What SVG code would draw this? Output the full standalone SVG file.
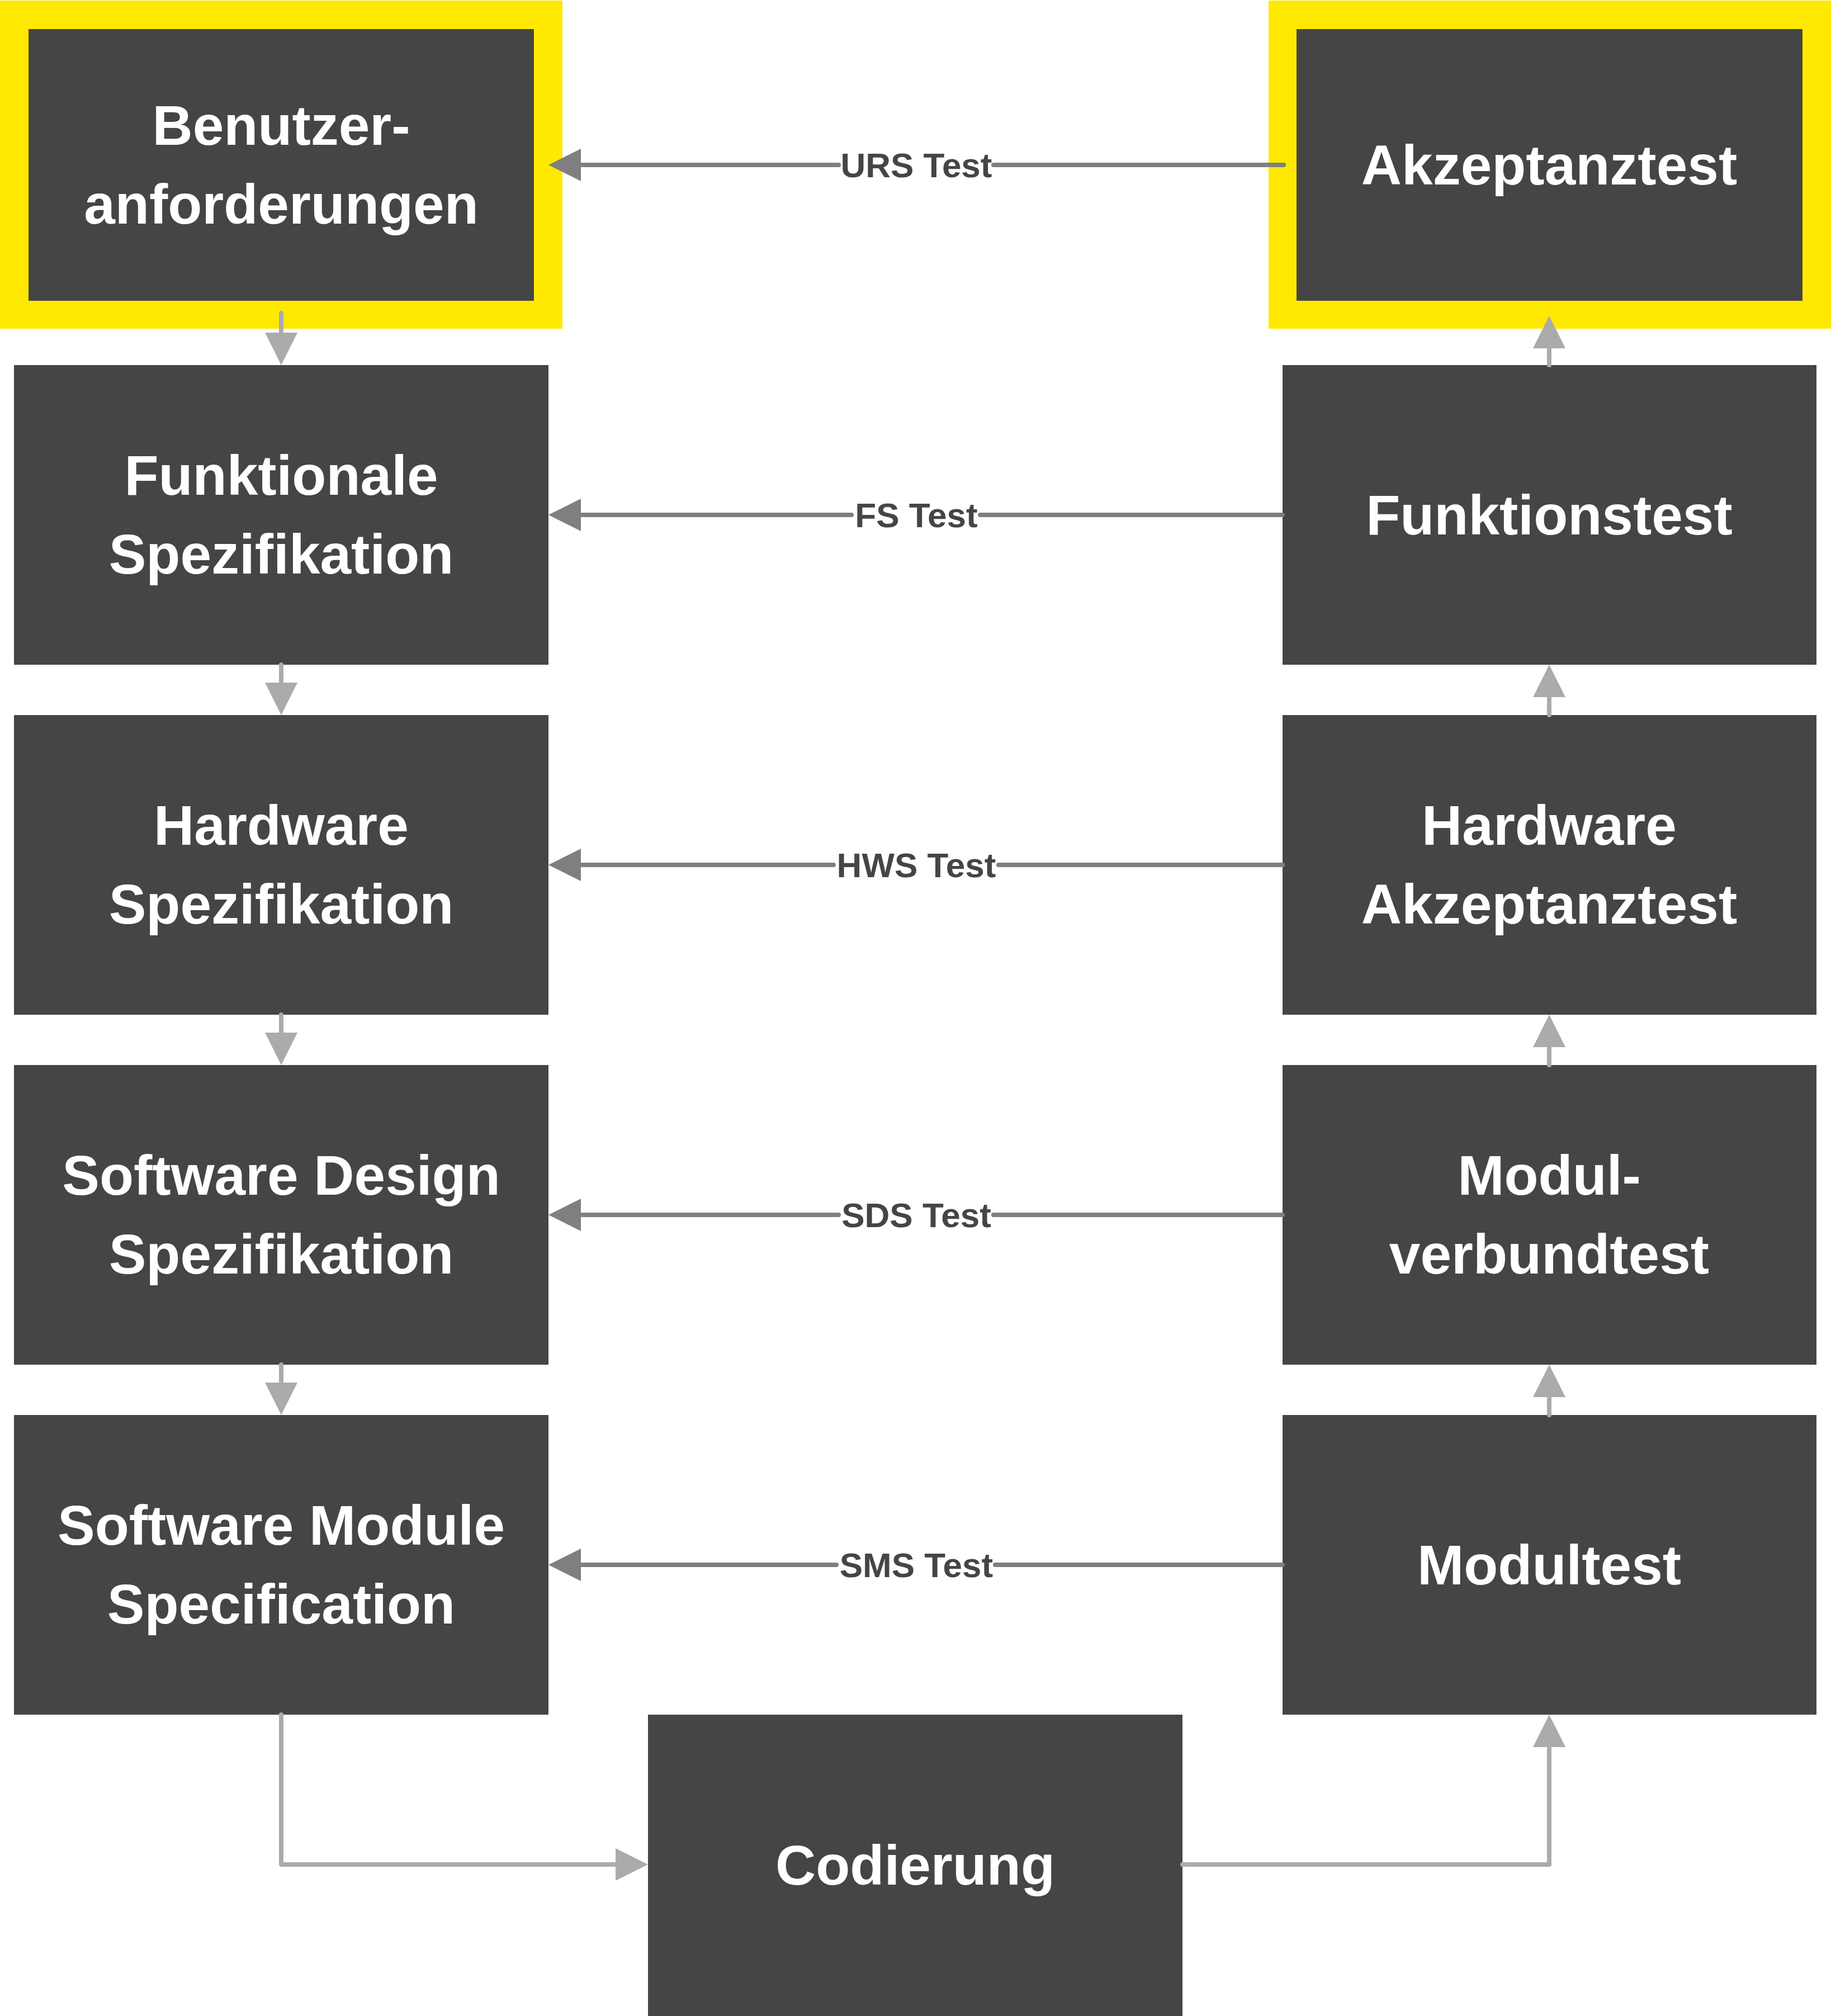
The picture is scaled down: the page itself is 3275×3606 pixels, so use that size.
<svg xmlns="http://www.w3.org/2000/svg" width="3275" height="3606" viewBox="0 0 3275 3606">
<style>
.box{fill:#454545}
.hl{fill:#ffe900}
.t{font-family:"Liberation Sans",Arial,sans-serif;font-weight:bold;font-size:100px;fill:#ffffff;text-anchor:middle}
.lbl{font-family:"Liberation Sans",Arial,sans-serif;font-weight:bold;font-size:62px;fill:#454545;text-anchor:middle}
.v{stroke:#ababab;stroke-width:8;fill:none;stroke-linecap:round;stroke-linejoin:round}
.h{stroke:#7f7f7f;stroke-width:8;fill:none;stroke-linecap:round}
</style>
<defs>
<marker id="al" markerUnits="userSpaceOnUse" markerWidth="60" markerHeight="60" refX="8" refY="29" orient="auto" overflow="visible">
<path d="M0,0 L58,29 L0,58 Z" fill="#ababab"/>
</marker>
<marker id="ad" markerUnits="userSpaceOnUse" markerWidth="60" markerHeight="60" refX="8" refY="29" orient="auto" overflow="visible">
<path d="M0,0 L58,29 L0,58 Z" fill="#7f7f7f"/>
</marker>
</defs>
<rect width="3275" height="3606" fill="#ffffff"/>

<g id="n-benutzer">
<rect class="hl" x="0" y="1" width="1006" height="587"/>
<rect class="box" x="51" y="52" width="904" height="486"/>
<text class="t" x="503" y="259">Benutzer-</text>
<text class="t" x="503" y="400">anforderungen</text>
</g>
<g id="n-funkspez">
<rect class="box" x="25" y="653" width="956" height="536"/>
<text class="t" x="503" y="885">Funktionale</text>
<text class="t" x="503" y="1026">Spezifikation</text>
</g>
<g id="n-hwspez">
<rect class="box" x="25" y="1279" width="956" height="536"/>
<text class="t" x="503" y="1511">Hardware</text>
<text class="t" x="503" y="1652">Spezifikation</text>
</g>
<g id="n-swdesign">
<rect class="box" x="25" y="1905" width="956" height="536"/>
<text class="t" x="503" y="2137">Software Design</text>
<text class="t" x="503" y="2278">Spezifikation</text>
</g>
<g id="n-swmodule">
<rect class="box" x="25" y="2531" width="956" height="536"/>
<text class="t" x="503" y="2763">Software Module</text>
<text class="t" x="503" y="2904">Specification</text>
</g>
<g id="n-codierung">
<rect class="box" x="1159" y="3067" width="956" height="539"/>
<text class="t" x="1637" y="3371">Codierung</text>
</g>
<g id="n-akzeptanz">
<rect class="hl" x="2269" y="1" width="1006" height="587"/>
<rect class="box" x="2319" y="52" width="905" height="486"/>
<text class="t" x="2771" y="330">Akzeptanztest</text>
</g>
<g id="n-funktionstest">
<rect class="box" x="2294" y="653" width="955" height="536"/>
<text class="t" x="2771" y="956">Funktionstest</text>
</g>
<g id="n-hwakz">
<rect class="box" x="2294" y="1279" width="955" height="536"/>
<text class="t" x="2771" y="1511">Hardware</text>
<text class="t" x="2771" y="1652">Akzeptanztest</text>
</g>
<g id="n-modulverbund">
<rect class="box" x="2294" y="1905" width="955" height="536"/>
<text class="t" x="2771" y="2137">Modul-</text>
<text class="t" x="2771" y="2278">verbundtest</text>
</g>
<g id="n-modultest">
<rect class="box" x="2294" y="2531" width="955" height="536"/>
<text class="t" x="2771" y="2834">Modultest</text>
</g>

<g id="connectors">
<line class="v" x1="503" y1="560" x2="503" y2="603" marker-end="url(#al)"/>
<line class="v" x1="503" y1="1189" x2="503" y2="1229" marker-end="url(#al)"/>
<line class="v" x1="503" y1="1815" x2="503" y2="1855" marker-end="url(#al)"/>
<line class="v" x1="503" y1="2441" x2="503" y2="2481" marker-end="url(#al)"/>
<polyline class="v" points="503,3067 503,3335 1109,3335" marker-end="url(#al)"/>

<line class="v" x1="2771" y1="653" x2="2771" y2="615" marker-end="url(#al)"/>
<line class="v" x1="2771" y1="1279" x2="2771" y2="1239" marker-end="url(#al)"/>
<line class="v" x1="2771" y1="1905" x2="2771" y2="1865" marker-end="url(#al)"/>
<line class="v" x1="2771" y1="2531" x2="2771" y2="2491" marker-end="url(#al)"/>
<polyline class="v" points="2115,3335 2771,3335 2771,3117" marker-end="url(#al)"/>

<line class="h" x1="2296" y1="295" x2="1777" y2="295"/>
<line class="h" x1="1500" y1="295" x2="1031" y2="295" marker-end="url(#ad)"/>
<text class="lbl" x="1639" y="317">URS Test</text>

<line class="h" x1="2294" y1="921" x2="1753" y2="921"/>
<line class="h" x1="1523" y1="921" x2="1031" y2="921" marker-end="url(#ad)"/>
<text class="lbl" x="1639" y="943">FS Test</text>

<line class="h" x1="2294" y1="1547" x2="1786" y2="1547"/>
<line class="h" x1="1491" y1="1547" x2="1031" y2="1547" marker-end="url(#ad)"/>
<text class="lbl" x="1639" y="1569">HWS Test</text>

<line class="h" x1="2294" y1="2173" x2="1777" y2="2173"/>
<line class="h" x1="1500" y1="2173" x2="1031" y2="2173" marker-end="url(#ad)"/>
<text class="lbl" x="1639" y="2195">SDS Test</text>

<line class="h" x1="2294" y1="2799" x2="1780" y2="2799"/>
<line class="h" x1="1496" y1="2799" x2="1031" y2="2799" marker-end="url(#ad)"/>
<text class="lbl" x="1639" y="2821">SMS Test</text>
</g>
</svg>
